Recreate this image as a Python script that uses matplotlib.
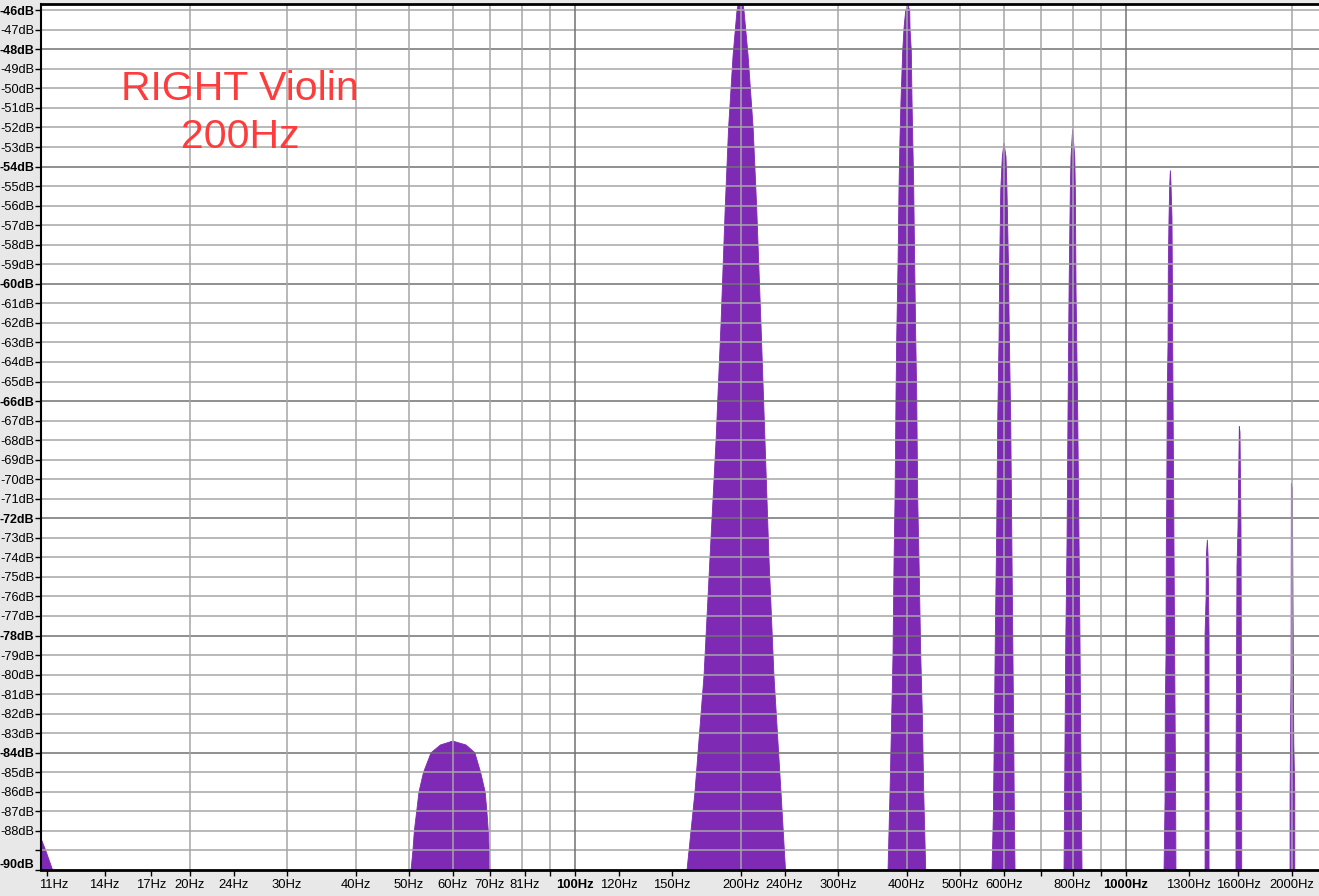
import matplotlib
matplotlib.use("Agg")
import matplotlib.pyplot as plt
from matplotlib.ticker import NullLocator
from matplotlib.transforms import ScaledTranslation

# ---------------- data ----------------
edge11_hz = [10.74, 10.95, 11.27]
edge11_db = [-88.4, -89.0, -90.0]

hump60_hz = [50.4, 50.8, 51.1, 51.6, 52.1, 53.1, 54.8, 57.0, 60.0, 63.4, 65.8, 67.4, 68.7, 69.2, 69.6, 69.9, 70.1]
hump60_db = [-90, -89, -88, -87, -86, -85, -84, -83.6, -83.4, -83.6, -84, -85, -86, -87, -88, -89, -90]

peak200_hz = [159.7, 165.1, 171.5, 175.8, 180.3, 184.1, 187.4, 190.0, 193.6, 196.8, 200.0,
              202.6, 206.1, 210.5, 213.6, 217.5, 221.2, 224.9, 229.6, 236.5, 241.0]
peak200_db = [-90, -86, -80, -74, -68, -62, -56, -52, -48.3, -46, -45.0,
              -46, -48.3, -52, -56, -62, -68, -74, -80, -86, -90]

peak400_hz = [369.9, 373.0, 375.7, 377.7, 379.3, 380.9, 382.5, 383.6, 385.7, 387.3, 388.9, 390.5, 393.3, 395.5, 398.3,
              402.2, 405.0, 405.5, 407.7, 408.9, 410.1, 411.8, 413.5, 415.3, 417.0, 418.8, 421.1, 424.1, 426.9, 429.4, 433.0]
peak400_db = [-90, -86, -82, -79, -74.2, -71, -65.6, -62.7, -59, -55, -52.5, -50.6, -48.1, -46.9, -46,
              -45.75, -46, -46.9, -48.1, -50.6, -52.5, -55, -59, -62.7, -65.6, -71, -74.2, -79, -82, -86, -90]

peak600_hz = [571.3, 574.4, 576.8, 579.2, 582.6, 585.0, 588.3, 590.0, 592.5, 596.4, 600.5,
              605.6, 608.1, 611.6, 614.1, 617.7, 620.3, 622.9, 625.5, 627.1, 628.9]
peak600_db = [-90, -87.2, -83.1, -78, -72.5, -67, -62.7, -58.7, -55.2, -53.5, -52.8,
              -53.5, -55.2, -58.7, -62.7, -67, -72.5, -78, -83.1, -87.2, -90]

peak800_hz = [771.8, 775.0, 777.3, 781.5, 784.7, 788.2, 792.4, 794.7, 800.0,
              807.2, 809.2, 811.6, 817.3, 821.8, 825.2, 827.7, 832.1]
peak800_db = [-90, -83.4, -78.5, -73.3, -66.7, -60.4, -55.2, -53.5, -52.1,
              -53.5, -55.2, -60.4, -66.7, -73.3, -78.5, -83.4, -90]

peak1200_hz = [1172.2, 1177.1, 1178.5, 1182.0, 1183.4, 1185.6, 1188.4, 1192.0, 1193.4, 1196.9, 1200.5,
               1203.6, 1206.8, 1211.8, 1213.4, 1215.4, 1216.8, 1220.5, 1225.5, 1230.6, 1232.1]
peak1200_db = [-90, -86.5, -81.6, -79, -73.4, -71, -65.4, -63, -59, -56.6, -54.9,
               -54.2, -54.9, -56.6, -59, -63, -65.4, -71, -79, -86.5, -90]

peak1400_hz = [1391.5, 1391.5, 1397.3, 1399.0, 1404.9, 1409.0, 1414.8, 1414.8]
peak1400_db = [-90, -77.9, -76.1, -73.9, -73.1, -73.9, -77.9, -90]

peak1600_hz = [1583.3, 1583.3, 1590.1, 1596.7, 1605.6, 1610.1, 1616.9, 1621.8, 1621.8]
peak1600_db = [-90, -85.3, -74.4, -72.5, -67.3, -67.6, -72.5, -85.3, -90]

peak2000_hz = [1984.7, 1984.7, 1993.1, 1995.6, 2004.0, 2016.0, 2024.4, 2024.4]
peak2000_db = [-90, -86.2, -80, -70.2, -70.5, -83.5, -86, -90]

# axis ticks / labels
x_label_hz = [11, 14, 17, 20, 24, 30, 40, 50, 60, 70, 81, 100, 120, 150, 200, 240,
              300, 400, 500, 600, 800, 1000, 1300, 1600, 2000]
x_label_txt = ["11Hz", "14Hz", "17Hz", "20Hz", "24Hz", "30Hz", "40Hz", "50Hz", "60Hz", "70Hz", "81Hz",
               "100Hz", "120Hz", "150Hz", "200Hz", "240Hz", "300Hz", "400Hz", "500Hz", "600Hz",
               "800Hz", "1000Hz", "1300Hz", "1600Hz", "2000Hz"]
x_extra_ticks = [90, 700, 900]
x_grid_light = [20, 30, 40, 50, 60, 70, 80, 90, 200, 300, 400, 500, 600, 700, 800, 900, 2000]
x_grid_dark = [100, 1000]

db_ticks = list(range(-46, -91, -1))
db_bold = [-46, -48, -54, -60, -66, -72, -78, -84, -90]

title_lines = ["RIGHT Violin", "200Hz"]

# ---------------- drawing ----------------
W, H = 1319, 896
fig = plt.figure(figsize=(W / 100, H / 100), dpi=100, facecolor="#E8E8E8")
ax = fig.add_axes([41 / W, 26 / H, 1 - 41 / W, 866 / H])
ax.set_facecolor("white")
ax.set_xscale("log")
ax.set_xlim(10.736, 2240)
ax.set_ylim(-90, -45.68)

purple = "#7E2AB5"
for hz, db in [(edge11_hz + [10.74], edge11_db + [-90]), (hump60_hz, hump60_db), (peak200_hz, peak200_db),
               (peak400_hz, peak400_db), (peak600_hz, peak600_db), (peak800_hz, peak800_db),
               (peak1200_hz, peak1200_db), (peak1400_hz, peak1400_db), (peak1600_hz, peak1600_db),
               (peak2000_hz, peak2000_db)]:
    ax.fill(hz, db, color=purple, lw=0.6, edgecolor=purple, zorder=1)

light = "#A6A6A6"
dark = "#727272"
for d in db_ticks:
    if d in (-90,):
        continue
    ax.axhline(d, color=dark if d in db_bold and d != -46 else light, lw=1.1, zorder=2)
for f in x_grid_light:
    ax.axvline(f, color=light, lw=1.1, zorder=2)
for f in x_grid_dark:
    ax.axvline(f, color=dark, lw=1.1, zorder=2)

# spines
for s in ["left", "top", "bottom"]:
    ax.spines[s].set_color("black")
    ax.spines[s].set_zorder(5)
ax.spines["left"].set_linewidth(1.5)
ax.spines["top"].set_linewidth(2.0)
ax.spines["bottom"].set_linewidth(2.0)
ax.spines["right"].set_visible(False)

# y ticks
ax.set_yticks(db_ticks)
ylabels = []
for d in db_ticks:
    ylabels.append("" if d == -89 else f"{d}dB")
ax.set_yticklabels(ylabels)
ax.yaxis.set_minor_locator(NullLocator())
ax.tick_params(axis="y", direction="out", length=4, width=1, pad=0.6, labelsize=9.2, colors="black")
for d, lab in zip(db_ticks, ax.get_yticklabels()):
    lab.set_fontfamily("Liberation Sans")
    if d in db_bold:
        lab.set_fontweight("bold")
        lab.set_fontsize(9.0)
    if d == -90:
        lab.set_transform(lab.get_transform() + ScaledTranslation(0, 7 / 100, fig.dpi_scale_trans))

# x ticks
xt = x_label_hz + x_extra_ticks
xl = x_label_txt + [""] * len(x_extra_ticks)
ax.set_xticks(xt)
ax.set_xticklabels(xl)
ax.xaxis.set_minor_locator(NullLocator())
ax.tick_params(axis="x", direction="out", length=4, width=1, pad=2.5, labelsize=9.4, colors="black")
for lab in ax.get_xticklabels():
    lab.set_fontfamily("Liberation Sans")
    if lab.get_text() in ("100Hz", "1000Hz"):
        lab.set_fontweight("bold")
    if lab.get_text() == "11Hz":
        lab.set_transform(lab.get_transform() + ScaledTranslation(7 / 100, 0, fig.dpi_scale_trans))

# title text
red = "#FF3B3B"
fig.text(240 / W, 1 - 100 / H, title_lines[0], ha="center", va="baseline", fontsize=29.5,
         color=red, family="Liberation Sans")
fig.text(240 / W, 1 - 148 / H, title_lines[1], ha="center", va="baseline", fontsize=29.5,
         color=red, family="Liberation Sans")

fig.savefig("out.png", dpi=100, facecolor=fig.get_facecolor())
